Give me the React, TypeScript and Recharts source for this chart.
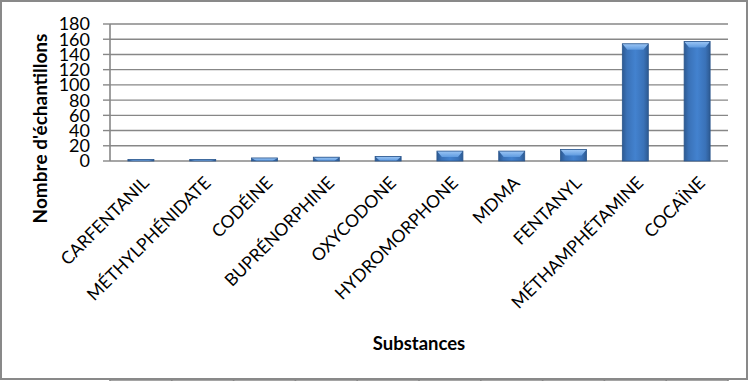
import React from "react";
import { BarChart, Bar, XAxis, YAxis, CartesianGrid } from "recharts";

const substances = [
  "CARFENTANIL",
  "MÉTHYLPHÉNIDATE",
  "CODÉINE",
  "BUPRÉNORPHINE",
  "OXYCODONE",
  "HYDROMORPHONE",
  "MDMA",
  "FENTANYL",
  "MÉTHAMPHÉTAMINE",
  "COCAÏNE",
];
const counts = [2, 2, 4, 5, 6, 13, 13, 15, 154, 157];
const yTicks = [0, 20, 40, 60, 80, 100, 120, 140, 160, 180];
const boundaryTicks = [0, 1, 2, 3, 4, 5, 6, 7, 8, 9, 10];

const data = substances.map((name, i) => ({ name, value: counts[i], pos: i + 0.5 }));

const FONT = "Lato, 'Open Sans', sans-serif";
const GRID = "#878787";

// eslint-disable-next-line @typescript-eslint/no-explicit-any
function AngledTick({ x, y, payload }: any) {
  return (
    <text
      x={x + 6}
      y={y + 12}
      transform={`rotate(-45, ${x + 6}, ${y + 12})`}
      textAnchor="end"
      dominantBaseline="middle"
      fontFamily={FONT}
      fontSize={17.5}
      fill="#000"
    >
      {payload.value}
    </text>
  );
}

// eslint-disable-next-line @typescript-eslint/no-explicit-any
function YTitle({ viewBox }: any) {
  const cx = 42;
  const cy = viewBox.y + viewBox.height / 2 + 36;
  return (
    <text
      x={cx}
      y={cy}
      transform={`rotate(-90, ${cx}, ${cy})`}
      textAnchor="middle"
      dominantBaseline="middle"
      fontFamily={FONT}
      fontWeight={700}
      fontSize={19}
      fill="#000"
    >
      Nombre d'échantillons
    </text>
  );
}

// eslint-disable-next-line @typescript-eslint/no-explicit-any
function BevelBar({ x, y, width, height }: any) {
  if (!height || height <= 0) return null;
  const b = Math.min(6, height);
  const inset = Math.min(5, width / 4);
  return (
    <g>
      <rect x={x} y={y} width={width} height={height} fill="url(#barGrad)" />
      <polygon
        points={`${x},${y} ${x + width},${y} ${x + width - inset},${y + b} ${x + inset},${y + b}`}
        fill="url(#bevelGrad)"
      />
      <rect x={x} y={y} width={width} height={height} fill="none" stroke="#2b568c" strokeWidth={0.8} />
    </g>
  );
}

export default function App() {
  return (
    <div style={{ position: "relative", width: 752, height: 381, background: "#fff" }}>
      <style>{"body{margin:0}"}</style>
      <BarChart
        width={752}
        height={381}
        data={data}
        margin={{ top: 24, right: 24, bottom: 0, left: 48 }}
        barCategoryGap="29%"
      >
        <defs>
          <linearGradient id="barGrad" x1="0" y1="0" x2="1" y2="0">
            <stop offset="0%" stopColor="#2d5a92" />
            <stop offset="18%" stopColor="#3a72b8" />
            <stop offset="50%" stopColor="#4382cf" />
            <stop offset="82%" stopColor="#3a72b8" />
            <stop offset="100%" stopColor="#2d5a92" />
          </linearGradient>
          <linearGradient id="bevelGrad" x1="0" y1="0" x2="0" y2="1">
            <stop offset="0%" stopColor="#9cc6f5" />
            <stop offset="100%" stopColor="#5f9be0" />
          </linearGradient>
        </defs>
        <CartesianGrid vertical={false} stroke={GRID} strokeWidth={1.4} />
        <XAxis
          xAxisId="ticks"
          dataKey="pos"
          type="number"
          domain={[0, 10]}
          ticks={boundaryTicks}
          height={1}
          tick={() => <g />}
          tickSize={6}
          stroke={GRID}
          axisLine={{ stroke: GRID, strokeWidth: 1.6 }}
          tickLine={{ stroke: GRID, strokeWidth: 1.6 }}
        />
        <XAxis
          dataKey="name"
          interval={0}
          height={219}
          axisLine={false}
          tickLine={false}
          tick={<AngledTick />}
          label={{
            value: "Substances",
            position: "insideBottom",
            offset: 30,
            fontFamily: FONT,
            fontWeight: 700,
            fontSize: 18.5,
            fill: "#000",
          }}
        />
        <YAxis
          domain={[0, 180]}
          ticks={yTicks}
          interval={0}
          width={62}
          tickSize={7}
          tickMargin={13}
          axisLine={{ stroke: GRID, strokeWidth: 1.6 }}
          tickLine={{ stroke: GRID, strokeWidth: 1.4 }}
          tick={{ fontFamily: FONT, fontSize: 18, fill: "#000" }}
          label={<YTitle />}
        />
        <Bar dataKey="value" shape={<BevelBar />} isAnimationActive={false} />
      </BarChart>
      <div
        style={{
          position: "absolute",
          left: 0,
          top: 0,
          width: 748,
          height: 380,
          border: "2px solid #898989",
          boxSizing: "border-box",
          pointerEvents: "none",
        }}
      />
    </div>
  );
}
